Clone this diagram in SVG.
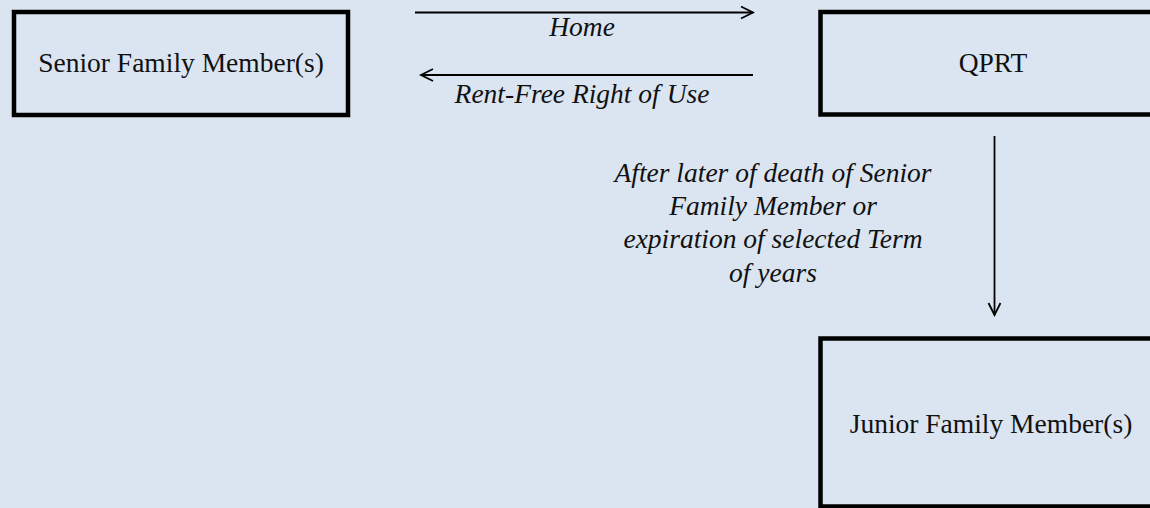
<svg xmlns="http://www.w3.org/2000/svg" width="1150" height="508" viewBox="0 0 1150 508">
<style>
.box{fill:none;stroke:#000;stroke-width:4.5}
.lbl{font-family:"Liberation Serif","Times New Roman",serif;font-size:27.5px;fill:#111;text-anchor:middle}
.it{font-family:"Liberation Serif","Times New Roman",serif;font-size:27.5px;font-style:italic;fill:#111;text-anchor:middle}
.conn{stroke:#000;stroke-width:1.8;fill:none}
</style>
<defs>
<marker id="arr" markerUnits="userSpaceOnUse" markerWidth="16" markerHeight="16" refX="13" refY="7" orient="auto" viewBox="0 0 16 14">
<path d="M1,1 L13,7 L1,13" fill="none" stroke="#000" stroke-width="1.8"/>
</marker>
</defs>
<rect width="1150" height="508" fill="#dbe5f1"/>
<g id="senior">
<rect class="box" x="14" y="12" width="334" height="103"/>
<text class="lbl" x="181" y="72">Senior Family Member(s)</text>
</g>
<g id="qprt">
<rect class="box" x="820.5" y="12" width="360" height="102.5"/>
<text class="lbl" x="993" y="72">QPRT</text>
</g>
<g id="junior">
<rect class="box" x="820.5" y="338.5" width="360" height="168"/>
<text class="lbl" x="991" y="433">Junior Family Member(s)</text>
</g>
<g id="connectors">
<line class="conn" x1="415" y1="12.5" x2="753" y2="12.5" marker-end="url(#arr)"/>
<line class="conn" x1="753" y1="75" x2="421" y2="75" marker-end="url(#arr)"/>
<line class="conn" x1="994.5" y1="136" x2="994.5" y2="315" marker-end="url(#arr)"/>
<text class="it" x="582" y="36">Home</text>
<text class="it" x="582" y="103">Rent-Free Right of Use</text>
<text class="it" x="773" y="182">After later of death of Senior</text>
<text class="it" x="773" y="215">Family Member or</text>
<text class="it" x="773" y="248">expiration of selected Term</text>
<text class="it" x="773" y="281.5">of years</text>
</g>
</svg>
